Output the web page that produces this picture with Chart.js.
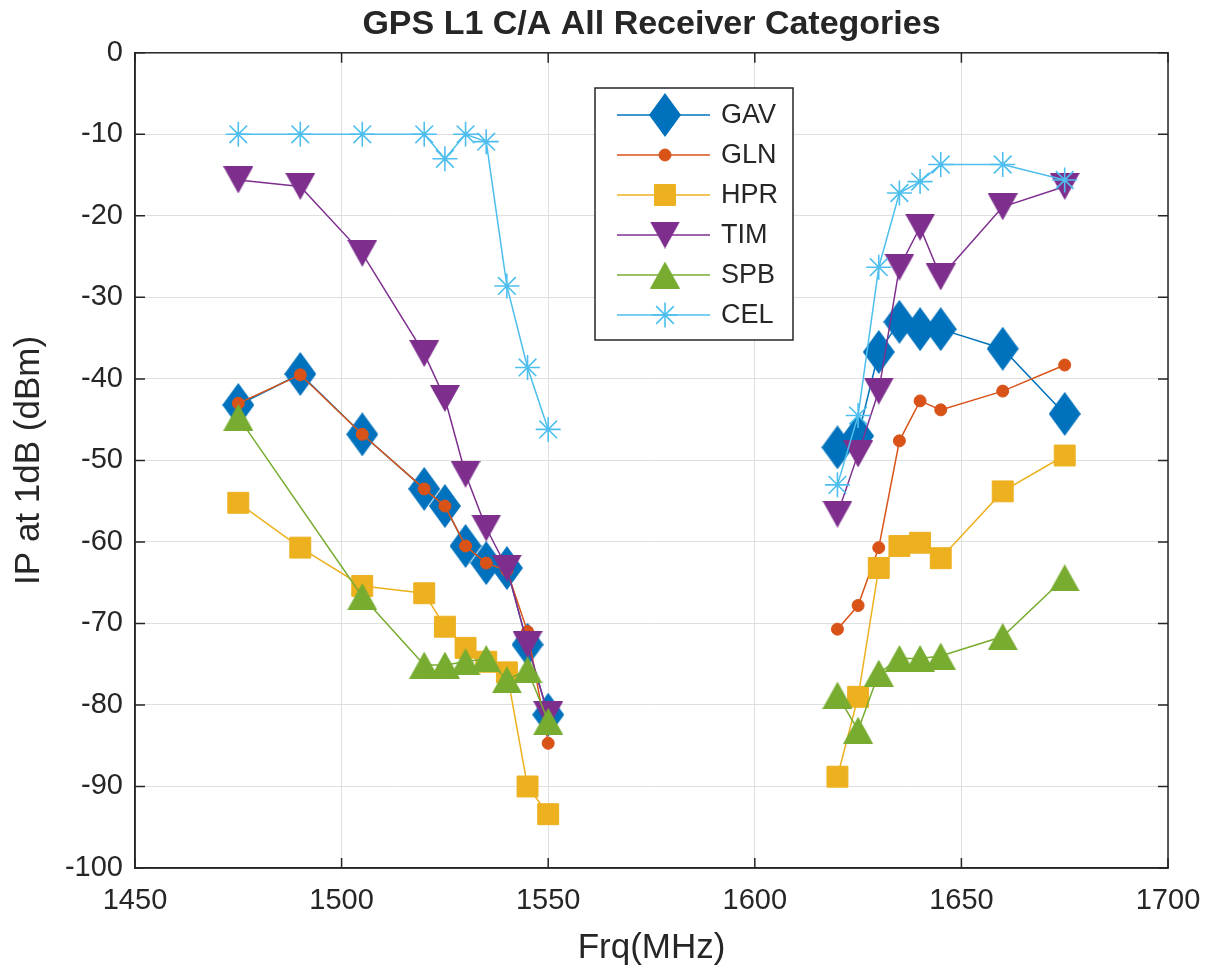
<!DOCTYPE html>
<html>
<head>
<meta charset="utf-8">
<title>GPS L1 C/A All Receiver Categories</title>
<script src="https://cdn.jsdelivr.net/npm/chart.js@4/dist/chart.umd.min.js"></script>
<style>
  html, body { margin: 0; padding: 0; background: #ffffff; }
  #wrap { width: 1205px; height: 970px; }
</style>
</head>
<body>
<div id="wrap"><canvas id="myChart" width="1205" height="970"></canvas></div>
<script>
// frequencies (MHz) below and above the gap
var leftFreqs = [1475, 1490, 1505, 1520, 1525, 1530, 1535, 1540, 1545, 1550];
var rightFreqs = [1620, 1625, 1630, 1635, 1640, 1645, 1660, 1675];

// IP at 1dB (dBm) per receiver category
var gavLeft = [-43.2, -39.4, -46.8, -53.5, -55.6, -60.5, -62.6, -63.2, -72.6, -81.2];
var gavRight = [-48.4, -47.0, -36.7, -33.0, -33.9, -33.9, -36.3, -44.3];
var glnLeft = [-43.0, -39.5, -46.8, -53.5, -55.6, -60.5, -62.6, -63.5, -71.0, -84.7];
var glnRight = [-70.7, -67.8, -60.7, -47.6, -42.7, -43.8, -41.5, -38.3];
var hprLeft = [-55.2, -60.7, -65.4, -66.3, -70.4, -73.0, -74.7, -76.0, -90.0, -93.4];
var hprRight = [-88.8, -79.0, -63.2, -60.5, -60.1, -62.0, -53.8, -49.4];
var timLeft = [-15.6, -16.4, -24.6, -36.9, -42.4, -51.7, -58.3, -63.2, -72.6, -81.2];
var timRight = [-56.6, -49.2, -41.5, -26.3, -21.4, -27.5, -18.9, -16.4];
var spbLeft = [-44.7, null, -66.7, -75.1, -75.1, -74.7, -74.3, -76.9, -75.7, -82.0];
var spbRight = [-78.8, -83.1, -76.1, -74.3, -74.3, -74.0, -71.6, -64.4];
var celLeft = [-10, -10, -10, -10, -13.0, -10, -10.9, -28.6, -38.6, -46.2];
var celRight = [-53.0, -44.5, -26.3, -17.2, -15.8, -13.7, -13.7, -15.6];

var seriesNames = ['GAV', 'GLN', 'HPR', 'TIM', 'SPB', 'CEL'];
var xTicks = [1450, 1500, 1550, 1600, 1650, 1700];
var yTicks = [0, -10, -20, -30, -40, -50, -60, -70, -80, -90, -100];

var colors = ['#0072BD', '#D95319', '#EDB120', '#7E2F8E', '#77AC30', '#4DBEEE'];
var textColor = '#262626';
var fontFamily = "'Liberation Sans', Arial, Helvetica, sans-serif";

// join both bands, with a null point in between so the line breaks
function buildPoints(leftVals, rightVals) {
  var pts = [];
  for (var i = 0; i < leftFreqs.length; i++) {
    if (leftVals[i] !== null) pts.push({ x: leftFreqs[i], y: leftVals[i] });
  }
  pts.push({ x: 1600, y: null });
  for (var j = 0; j < rightFreqs.length; j++) {
    if (rightVals[j] !== null) pts.push({ x: rightFreqs[j], y: rightVals[j] });
  }
  return pts;
}

// marker images for shapes chart.js does not draw the matlab way
function makeMarker(kind, w, h, color) {
  var c = document.createElement('canvas');
  c.width = w;
  c.height = h;
  var g = c.getContext('2d');
  g.fillStyle = color;
  g.beginPath();
  if (kind === 'diamond') {
    g.moveTo(w / 2, 0);
    g.lineTo(w, h / 2);
    g.lineTo(w / 2, h);
    g.lineTo(0, h / 2);
  } else if (kind === 'down') {
    g.moveTo(0, 0);
    g.lineTo(w, 0);
    g.lineTo(w / 2, h);
  } else {
    g.moveTo(w / 2, 0);
    g.lineTo(w, h);
    g.lineTo(0, h);
  }
  g.closePath();
  g.fill();
  return c;
}

var allLeft = [gavLeft, glnLeft, hprLeft, timLeft, spbLeft, celLeft];
var allRight = [gavRight, glnRight, hprRight, timRight, spbRight, celRight];

var markerStyles = [
  { pointStyle: makeMarker('diamond', 32, 44, colors[0]), pointRadius: 16 },
  { pointStyle: 'circle', pointRadius: 6 },
  { pointStyle: 'rect', pointRadius: 14.8 },
  { pointStyle: makeMarker('down', 30, 27, colors[3]), pointRadius: 15 },
  { pointStyle: makeMarker('up', 30, 27, colors[4]), pointRadius: 15 },
  { pointStyle: 'star', pointRadius: 12.5 }
];

var datasets = [];
for (var k = 0; k < seriesNames.length; k++) {
  datasets.push({
    label: seriesNames[k],
    data: buildPoints(allLeft[k], allRight[k]),
    borderColor: colors[k],
    backgroundColor: colors[k],
    borderWidth: 1.5,
    pointStyle: markerStyles[k].pointStyle,
    pointRadius: markerStyles[k].pointRadius,
    pointBackgroundColor: colors[k],
    pointBorderColor: colors[k],
    pointBorderWidth: k === 5 ? 1.6 : 1,
    spanGaps: false,
    tension: 0,
    order: seriesNames.length - k // first series drawn underneath
  });
}

// box, inward tick marks and the legend
var matlabFrame = {
  id: 'matlabFrame',
  afterDatasetsDraw: function(chart) {
    var ctx = chart.ctx;
    var a = chart.chartArea;
    var xs = chart.scales.x, ys = chart.scales.y;
    ctx.save();
    ctx.strokeStyle = textColor;
    ctx.lineWidth = 1.5;
    ctx.strokeRect(a.left, a.top, a.right - a.left, a.bottom - a.top);
    ctx.beginPath();
    xTicks.forEach(function(v) {
      var px = xs.getPixelForValue(v);
      ctx.moveTo(px, a.bottom); ctx.lineTo(px, a.bottom - 10);
      ctx.moveTo(px, a.top); ctx.lineTo(px, a.top + 10);
    });
    yTicks.forEach(function(v) {
      var py = ys.getPixelForValue(v);
      ctx.moveTo(a.left, py); ctx.lineTo(a.left + 10, py);
      ctx.moveTo(a.right, py); ctx.lineTo(a.right - 10, py);
    });
    ctx.stroke();

    // legend
    var boxL = 595, boxT = 88, boxW = 198, boxH = 252;
    ctx.fillStyle = '#ffffff';
    ctx.fillRect(boxL, boxT, boxW, boxH);
    ctx.strokeStyle = textColor;
    ctx.lineWidth = 1.5;
    ctx.strokeRect(boxL, boxT, boxW, boxH);
    ctx.font = '27px ' + fontFamily;
    ctx.textBaseline = 'middle';
    ctx.textAlign = 'left';
    chart.data.datasets.forEach(function(ds, i) {
      var y = 115 + i * 40;
      ctx.strokeStyle = ds.borderColor;
      ctx.lineWidth = ds.borderWidth;
      ctx.beginPath();
      ctx.moveTo(617, y);
      ctx.lineTo(710, y);
      ctx.stroke();
      ctx.fillStyle = ds.pointBackgroundColor;
      ctx.strokeStyle = ds.pointBorderColor;
      ctx.lineWidth = ds.pointBorderWidth;
      Chart.helpers.drawPoint(ctx, {
        pointStyle: ds.pointStyle,
        radius: ds.pointRadius,
        borderWidth: ds.pointBorderWidth,
        rotation: 0
      }, 665, y);
      ctx.fillStyle = textColor;
      ctx.fillText(ds.label, 721, y + 1);
    });
    ctx.restore();
  }
};

var ctx = document.getElementById('myChart').getContext('2d');
var myChart = new Chart(ctx, {
  type: 'line',
  data: { datasets: datasets },
  options: {
    responsive: false,
    animation: false,
    layout: { padding: { left: 0, right: 37, top: 0, bottom: 0 } },
    plugins: {
      legend: { display: false },
      tooltip: { enabled: false },
      title: {
        display: true,
        fullSize: false,
        text: 'GPS L1 C/A All Receiver Categories',
        color: textColor,
        font: { family: fontFamily, size: 34, weight: 'bold' },
        padding: { top: 4, bottom: 8 }
      }
    },
    scales: {
      x: {
        type: 'linear',
        min: 1450,
        max: 1700,
        afterBuildTicks: function(scale) {
          scale.ticks = xTicks.map(function(v) { return { value: v }; });
        },
        afterFit: function(scale) {
          scale.height = 102;
          scale.paddingLeft = 0;
          scale.paddingRight = 0;
        },
        grid: { color: '#dfdfdf', lineWidth: 1, drawTicks: false, tickLength: 0 },
        border: { display: true, color: textColor, width: 1.5 },
        ticks: {
          color: textColor,
          font: { family: fontFamily, size: 29 },
          padding: 16,
          maxRotation: 0,
          autoSkip: false,
          callback: function(value) { return String(value); }
        },
        title: {
          display: true,
          text: 'Frq(MHz)',
          color: textColor,
          font: { family: fontFamily, size: 35 },
          padding: { top: 0, bottom: 1 }
        }
      },
      y: {
        type: 'linear',
        min: -100,
        max: 0,
        afterBuildTicks: function(scale) {
          scale.ticks = yTicks.map(function(v) { return { value: v }; });
        },
        afterFit: function(scale) { scale.width = 135; },
        grid: { color: '#dfdfdf', lineWidth: 1, drawTicks: false, tickLength: 0 },
        border: { display: true, color: textColor, width: 1.5 },
        ticks: {
          color: textColor,
          font: { family: fontFamily, size: 29 },
          padding: 12,
          autoSkip: false,
          callback: function(value) { return String(value); }
        },
        title: {
          display: true,
          text: 'IP at 1dB (dBm)',
          color: textColor,
          font: { family: fontFamily, size: 35 },
          padding: { top: 8, bottom: 0 }
        }
      }
    }
  },
  plugins: [matlabFrame]
});
</script>
</body>
</html>
